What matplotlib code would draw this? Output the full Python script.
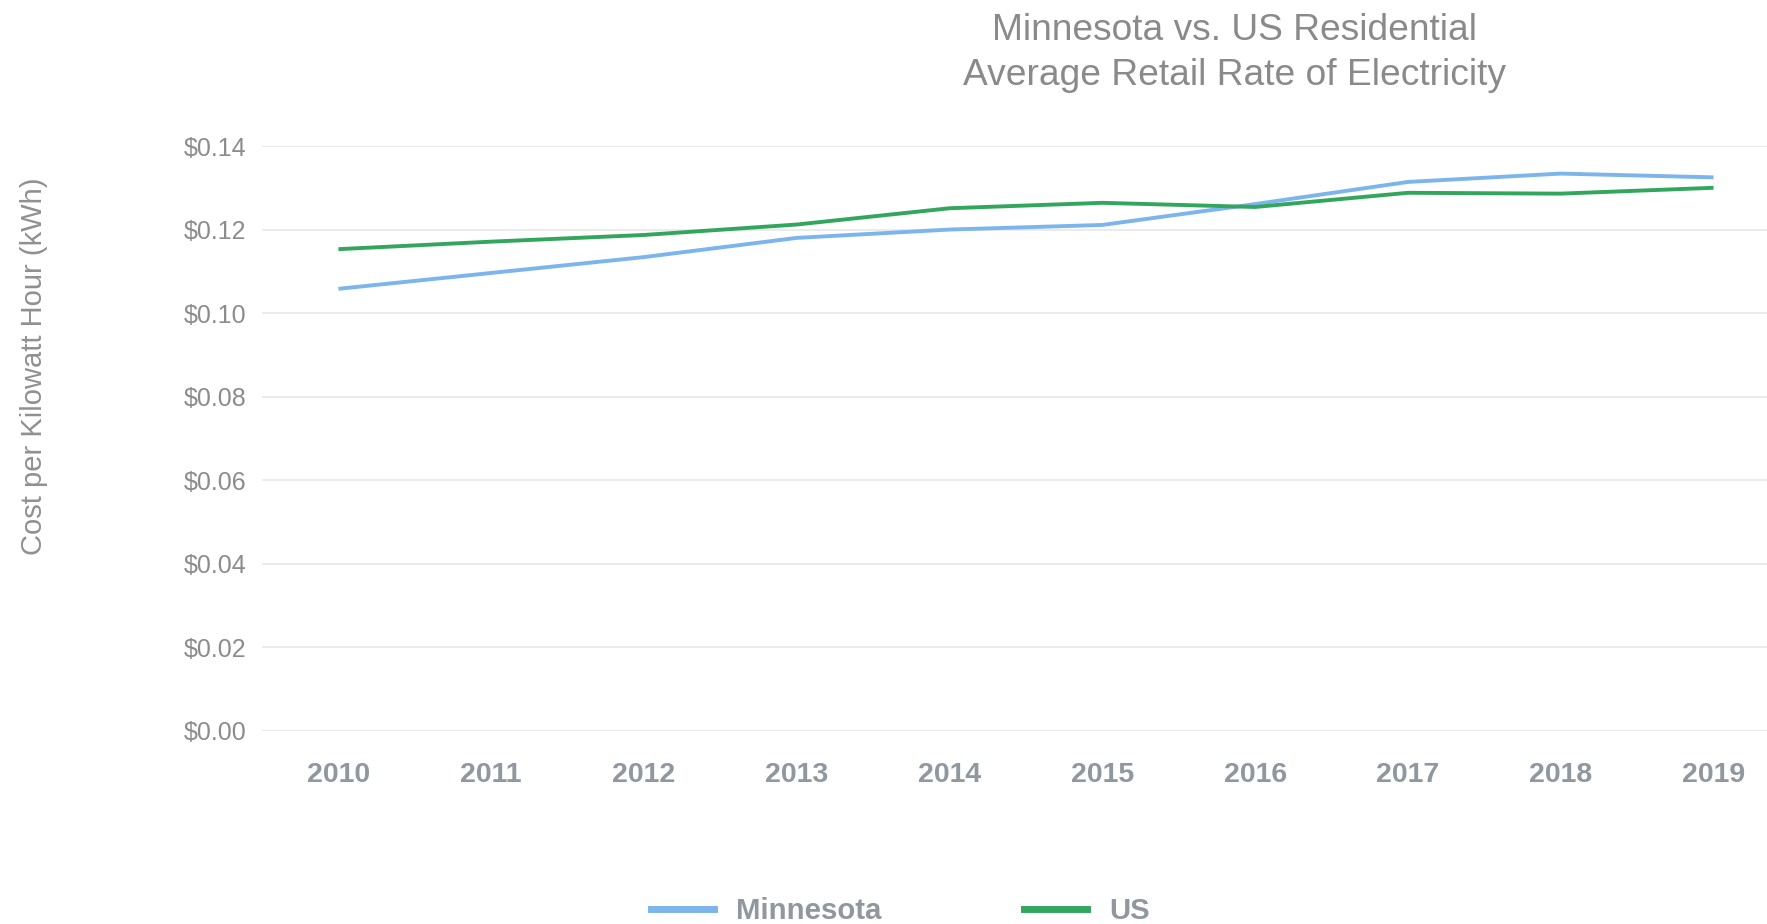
import matplotlib
matplotlib.use("Agg")
import matplotlib.pyplot as plt
from matplotlib.lines import Line2D
from matplotlib.ticker import FuncFormatter

# residential average retail rate, $ per kWh
years = [2010, 2011, 2012, 2013, 2014, 2015, 2016, 2017, 2018, 2019]
minnesota = [0.1059, 0.1097, 0.1135, 0.1181, 0.1201, 0.1212, 0.1262, 0.1315, 0.1335, 0.1326]
us = [0.1154, 0.1172, 0.1188, 0.1213, 0.1252, 0.1265, 0.1255, 0.1289, 0.1287, 0.1301]

plt.rcParams['font.family'] = ['Liberation Sans', 'DejaVu Sans']

fig = plt.figure(figsize=(17.67, 9.24), dpi=100)
ax = fig.add_axes([0.1483, 0.2089, 0.8517, 0.6326])

blue = '#7cb5ec'
green = '#33a65e'
ax.plot(years, minnesota, color=blue, lw=2.8, solid_capstyle='butt', zorder=3)
ax.plot(years, us, color=green, lw=2.8, solid_capstyle='butt', zorder=4)

ax.set_xlim(2009.50, 2019.35)
ax.set_ylim(0, 0.14)
ax.set_yticks([0, 0.02, 0.04, 0.06, 0.08, 0.10, 0.12, 0.14])
ax.yaxis.set_major_formatter(FuncFormatter(lambda v, p: '$%.2f' % v))
ax.set_xticks(years)
ax.grid(axis='y', color='#e8e8e8', lw=1.2)
ax.set_axisbelow(True)
for s in ax.spines.values():
    s.set_visible(False)
ax.tick_params(axis='y', length=0, pad=11, labelsize=18, labelcolor='#8c8c8c')
ax.tick_params(axis='x', length=0, pad=22, labelsize=20.5, labelcolor='#8f989f')
for t in ax.get_xticklabels():
    t.set_fontweight('bold')

fig.text(0.0195, 0.604, 'Cost per Kilowatt Hour (kWh)', rotation=90, ha='center', va='center',
         fontsize=21, color='#909090')
fig.text(0.6985, 0.967, 'Minnesota vs. US Residential', ha='center', va='center',
         fontsize=26.7, color='#8a8a8a')
fig.text(0.6985, 0.918, 'Average Retail Rate of Electricity', ha='center', va='center',
         fontsize=26.7, color='#8a8a8a')

handles = [Line2D([], [], color=blue, lw=5), Line2D([], [], color=green, lw=5)]
fig.legend(handles, ['Minnesota', 'US'], loc='center', bbox_to_anchor=(0.5096, 0.014),
           ncol=2, frameon=False, handlelength=2.13, columnspacing=4.86, handletextpad=0.75,
           prop={'size': 21.2, 'weight': 'bold'}, labelcolor='#8f989f')

fig.savefig('out.png', dpi=100)
